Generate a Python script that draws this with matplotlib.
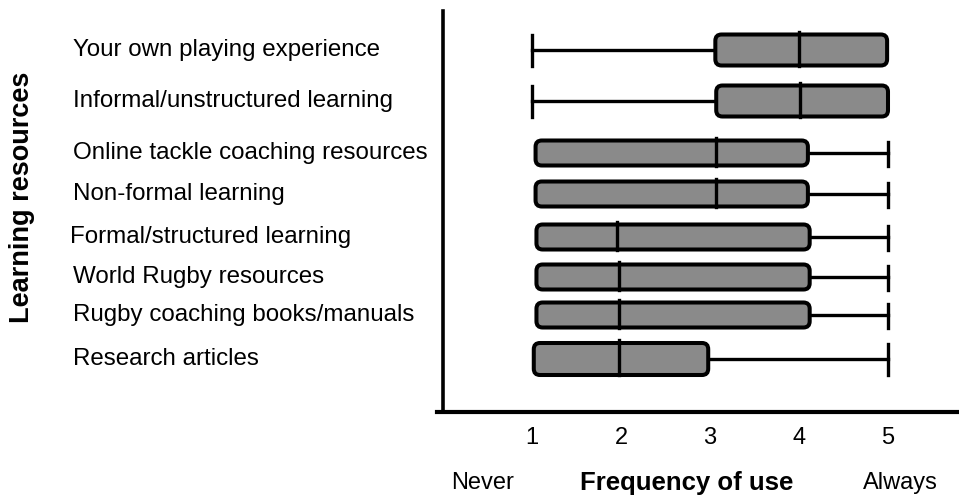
import matplotlib
matplotlib.use("Agg")
import matplotlib.pyplot as plt
from matplotlib.patches import FancyBboxPatch
from matplotlib.transforms import blended_transform_factory

plt.rcParams['font.family'] = ['Liberation Sans', 'DejaVu Sans']

# data (1 = never ... 5 = always)
resources = ["Your own playing experience", "Informal/unstructured learning",
             "Online tackle coaching resources", "Non-formal learning",
             "Formal/structured learning", "World Rugby resources",
             "Rugby coaching books/manuals", "Research articles"]
whisker_low = [1, 1, 1, 1, 1, 1, 1, 1]
q1 = [3.06, 3.07, 1.04, 1.04, 1.05, 1.05, 1.05, 1.02]
median = [4.0, 4.01, 3.07, 3.07, 1.96, 1.98, 1.98, 1.98]
q3 = [4.99, 5.0, 4.1, 4.1, 4.12, 4.12, 4.12, 2.98]
whisker_high = [5, 5, 5, 5, 5, 5, 5, 5]
ticks = [1, 2, 3, 4, 5]

# layout: row centres and box heights (pixel-like units, top to bottom)
row_y = [50, 101, 153, 194, 237, 277, 315, 359]
box_h = [31, 31, 25, 25, 25, 25, 25, 32]
label_x = [73, 73, 73, 73, 70, 73, 73, 73]

W, H = 959, 496
fig = plt.figure(figsize=(W / 100, H / 100), dpi=100)
ax = fig.add_axes([443 / W, 84 / H, 516 / W, 401 / H])
px_per_unit = 89
ax.set_xlim(0, 516 / px_per_unit)
ax.set_ylim(412, 11)

for sp in ['top', 'right']:
    ax.spines[sp].set_visible(False)
ax.spines['left'].set_linewidth(2.6)
ax.spines['bottom'].set_linewidth(3)
ax.spines['bottom'].set_bounds(-0.07, 516 / px_per_unit)

ax.set_yticks([])
ax.set_xticks(ticks)
ax.set_xticklabels([str(t) for t in ticks])
ax.tick_params(axis='x', length=0, labelsize=17, pad=11)

lw_box = 2.9
lw_line = 2.4
for i in range(len(resources)):
    y = row_y[i]
    h = box_h[i]
    # whiskers only where they reach beyond the box
    if q1[i] - whisker_low[i] > 0.1:
        ax.plot([whisker_low[i], q1[i]], [y, y], color='black', lw=lw_line, zorder=1)
        ax.plot([whisker_low[i]] * 2, [y - h / 2, y + h / 2], color='black', lw=lw_line, zorder=1)
    if whisker_high[i] - q3[i] > 0.1:
        ax.plot([q3[i], whisker_high[i]], [y, y], color='black', lw=lw_line, zorder=1)
        ax.plot([whisker_high[i]] * 2, [y - h / 2 + 1, y + h / 2], color='black', lw=lw_line, zorder=1)
    box = FancyBboxPatch((q1[i], y - h / 2), q3[i] - q1[i], h,
                         boxstyle="round,pad=0,rounding_size=0.07",
                         mutation_aspect=px_per_unit,
                         facecolor='#8a8a8a', edgecolor='black', lw=lw_box, zorder=2)
    ax.add_patch(box)
    ax.plot([median[i]] * 2, [y - h / 2 - 3, y + h / 2], color='black', lw=lw_line, zorder=3)

trans = blended_transform_factory(fig.transFigure, ax.transData)
for i, name in enumerate(resources):
    ax.text(label_x[i] / W, row_y[i], name, transform=trans, fontsize=17.4,
            ha='left', va='center', clip_on=False)

fig.text(22 / W, 1 - 197 / H, "Learning resources", rotation=90, fontsize=19.5,
         fontweight='bold', ha='center', va='center')
fig.text(483 / W, 1 - 483 / H, "Never", fontsize=17, ha='center', va='center')
fig.text(687 / W, 1 - 483 / H, "Frequency of use", fontsize=18.5, fontweight='bold',
         ha='center', va='center')
fig.text(900 / W, 1 - 483 / H, "Always", fontsize=17, ha='center', va='center')

fig.savefig("out.png", dpi=100)
